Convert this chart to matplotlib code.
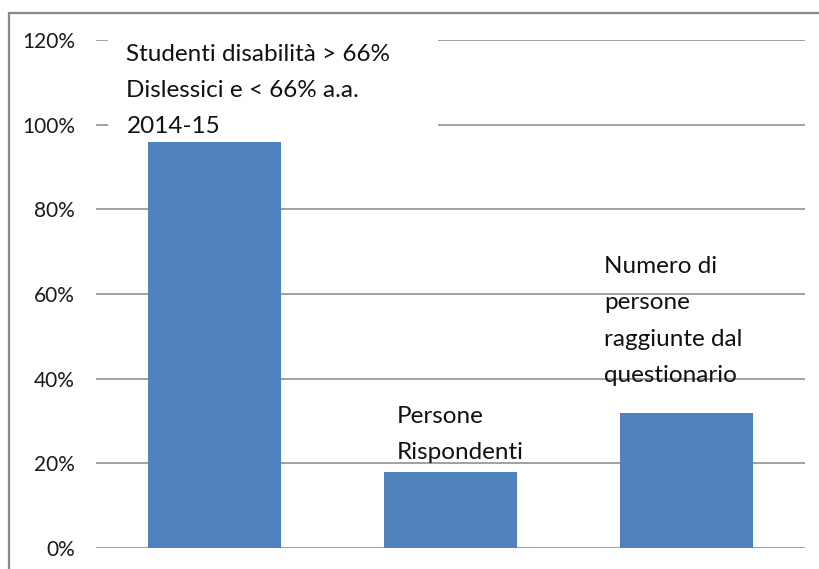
import matplotlib
matplotlib.use("Agg")
import matplotlib.pyplot as plt
import matplotlib.ticker as mticker
from matplotlib.patches import Rectangle

# ─── data ───
categories = [
    "Studenti disabilità > 66%\nDislessici e < 66% a.a.\n2014-15",
    "Persone\nRispondenti",
    "Numero di\npersone\nraggiunte dal\nquestionario",
]
values = [0.96, 0.18, 0.32]
yticks = [0, 0.2, 0.4, 0.6, 0.8, 1.0, 1.2]

BAR = "#4F81BD"
GRID = "#868686"
FONT = "Lato"

fig = plt.figure(figsize=(8.19, 5.69), dpi=100)
ax = fig.add_axes([0.1172, 0.0369, 0.8657, 0.8928])

x = range(len(values))
ax.bar(x, values, width=0.564, color=BAR, zorder=2)

ax.set_xlim(-0.5, 2.5)
ax.set_ylim(0, 1.2)
ax.set_yticks(yticks)
ax.yaxis.set_major_formatter(mticker.PercentFormatter(1.0, decimals=0))
ax.tick_params(axis="y", length=0, pad=15, labelsize=15, labelcolor="#1a1a1a")
for lbl in ax.get_yticklabels():
    lbl.set_fontfamily(FONT)
ax.set_xticks([])
for s in ax.spines.values():
    s.set_visible(False)
ax.grid(axis="y", color=GRID, linewidth=1.1, zorder=0)
ax.set_axisbelow(True)

# white box behind first label (hides gridlines)
ax.add_patch(Rectangle((-0.449, 0.99), 1.398, 0.4, facecolor="white",
                       edgecolor="none", zorder=1, clip_on=False))

# category labels inside the plot
offsets = [(-0.371, 1.191), (-0.227, 0.335), (-0.35, 0.69)]
for i, (lab, (dx, ty)) in enumerate(zip(categories, offsets)):
    ax.text(i + dx, ty, lab, ha="left", va="top", fontsize=17.5, family=FONT,
            color="#111111", linespacing=1.9, zorder=3, clip_on=False)

# outer frame (top and left visible)
fig.patches.append(Rectangle((9 / 819, -0.1), 1.2, (569 - 13) / 569 + 0.1,
                             transform=fig.transFigure, facecolor="none",
                             edgecolor="#888888", linewidth=1.6))

fig.savefig("out.png", dpi=100)
